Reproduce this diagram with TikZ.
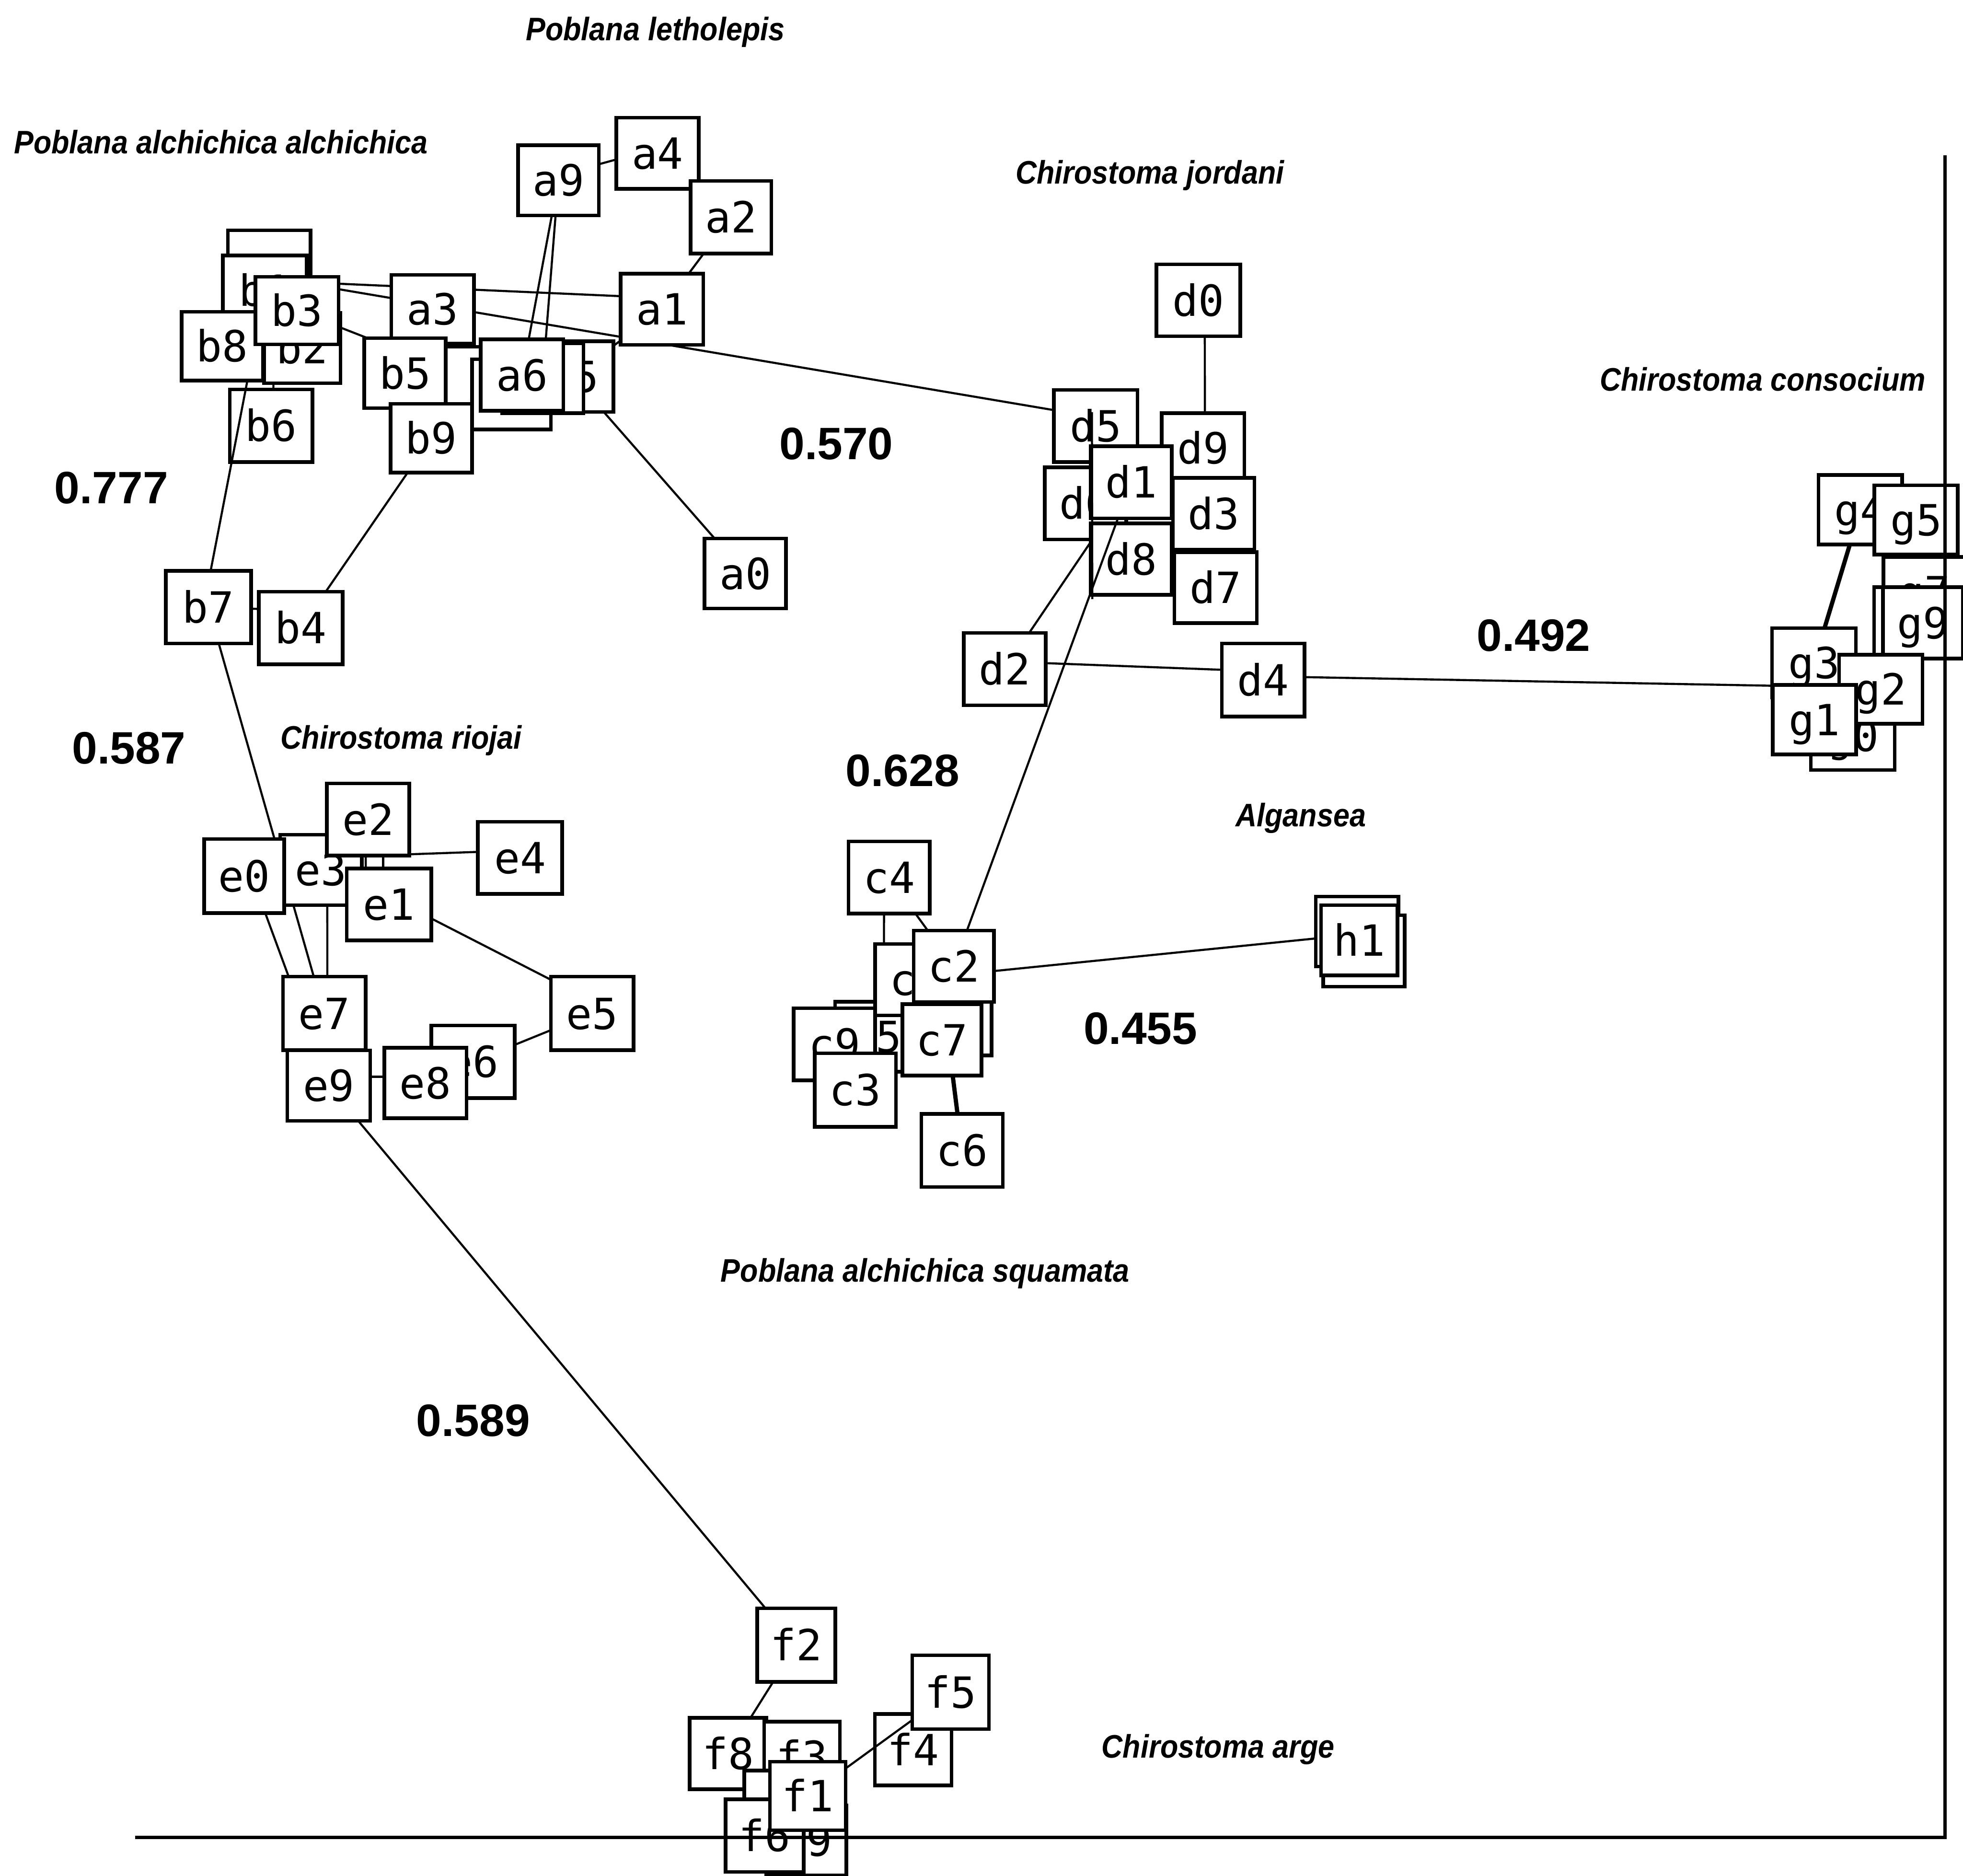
\documentclass[tikz,border=0pt]{standalone}
\usepackage{fontspec}
\usetikzlibrary{calc}
\newfontfamily\boxfont{DejaVu Sans Mono}
\newfontfamily\spfont[FakeStretch=0.9]{Liberation Sans}
\newfontfamily\numfont{Liberation Sans}
\tikzset{
  bx/.style={draw, line width=0.72mm, fill=white, minimum width=16.25mm, minimum height=14mm,
    inner sep=0pt, text height=6.25mm, text depth=0pt, font=\boxfont\fontsize{24.4pt}{25pt}\selectfont},
  sz/.style 2 args={minimum width=#1*0.25mm, minimum height=#2*0.25mm},
  conn/.style={line width=0.42mm},
  thickconn/.style={line width=0.85mm},
  sp/.style={anchor=base, inner sep=0pt, font=\spfont\bfseries\itshape\fontsize{18.5pt}{20pt}\selectfont},
  num/.style={anchor=base, inner sep=0pt, font=\numfont\bfseries\fontsize{25.8pt}{28pt}\selectfont},
  axisline/.style={line width=0.62mm}
}
\pgfdeclarelayer{lines}
\pgfsetlayers{lines,main}
\begin{document}
\begin{tikzpicture}[x=0.25mm, y=-0.25mm]
\useasboundingbox (0,0) rectangle (1568,1498);
\clip (0,0) rectangle (1568,1498);

% ---------- coordinates of box centres ----------
\path
 (446,144) coordinate (pa9) (525.2,122.4) coordinate (pa4) (583.8,173.5) coordinate (pa2)
 (528.8,247) coordinate (pa1) (345.6,247) coordinate (pa3) (215,212) coordinate (pb0)
 (211.5,232) coordinate (pb1) (177.5,276.5) coordinate (pb8) (241.5,278) coordinate (pb2)
 (237.2,248) coordinate (pb3) (216.5,340) coordinate (pb6) (323.5,298) coordinate (pb5)
 (382.5,305) coordinate (pP) (408.5,315) coordinate (pQ) (344.5,350) coordinate (pb9)
 (457.5,300.75) coordinate (pa5) (433.5,302) coordinate (pR) (417,299.5) coordinate (pa6)
 (595.3,458) coordinate (pa0) (166.5,485) coordinate (pb7) (240.3,501.5) coordinate (pb4);

% ===== a / b cluster =====
\node[bx, sz={66}{58}] (b6) at (pb6) {b6};
\draw[conn] (pb1) -- ($(pb7)+(0,-20)$);
\node[bx, sz={66}{56}] (b0) at (pb0) {};
\node[bx, sz={67}{56}] (b1) at (pb1) {b1};
\node[bx, sz={65}{55}] (b8) at (pb8) {b8};
\node[bx, sz={61}{56}] (b2) at (pb2) {b2};
\node[bx, sz={66.5}{54}] (b3) at (pb3) {b3};
\node[bx, sz={66}{55}] (a3) at (pa3) {a3};
\node[bx, sz={65}{56}] (P) at (pP) {};
\node[bx, sz={65}{56}] (b5) at (pb5) {b5};
\node[bx, sz={63}{56}] (Q) at (pQ) {};
\node[bx, sz={65}{55}] (b9) at (pb9) {b9};
\node[bx, sz={65}{56.5}] (a5) at (pa5) {a5};
\node[bx, sz={65}{56}] (R) at (pR) {};
\node[bx, sz={66}{57}] (a6) at (pa6) {a6};
\node[bx, sz={64.5}{56}] (a9) at (pa9) {a9};
\node[bx, sz={66}{57}] (a4) at (pa4) {a4};
\node[bx, sz={64.5}{58}] (a2) at (pa2) {a2};
\node[bx, sz={66}{57}] (a1) at (pa1) {a1};
\node[bx, sz={65}{56}] (a0) at (pa0) {a0};
\node[bx, sz={68}{58}] (b7) at (pb7) {b7};
\node[bx, sz={67}{58}] (b4) at (pb4) {b4};

% ===== d cluster =====
\node[bx, sz={67}{57.5}] (d0) at (957.3,239.8) {d0};
\node[bx, sz={65}{57.7}] (d6) at (867,402) {d6};
\node[bx, sz={66.7}{57.7}] (d5) at (875.2,340.2) {d5};
\node[bx, sz={66}{56}] (d9) at (961,358) {d9};
\node[bx, sz={65}{57.6}] (d1) at (903.5,385.2) {d1};
\node[bx, sz={65}{57.4}] (d3) at (969.5,410.3) {d3};
\node[bx, sz={66}{56.6}] (d7) at (971,469.3) {d7};
\node[bx, sz={65}{57}] (d8) at (903.5,446.5) {d8};
\node[bx, sz={65.4}{57.8}] (d2) at (802.5,534.4) {d2};
\node[bx, sz={66}{58.4}] (d4) at (1009,543.2) {d4};

% ===== g cluster =====
\node[bx, sz={66.7}{55.5}] (g4) at (1486,407.2) {g4};
\node[bx, sz={66.7}{55.4}] (g5) at (1530.5,415.3) {g5};
\node[bx, sz={65}{56}] (g7) at (1537,472.8) {g7};
\node[bx, sz={65}{57}] (g6) at (1529.5,497.5) {};
\node[bx, sz={64}{57}] (g9) at (1536,497.5) {g9};
\node[bx, sz={67}{55}] (g0) at (1480,587.5) {g0};
\node[bx, sz={67}{55.4}] (g3) at (1449,529.3) {g3};
\node[bx, sz={66.5}{55}] (g2) at (1502.3,550.5) {g2};
\node[bx, sz={66.6}{55.6}] (g1) at (1449.3,574.8) {g1};

% ===== e cluster =====
\node[bx, sz={65.3}{56.4}] (e3) at (256.4,694.8) {e3};
\node[bx, sz={64}{59}] (e0) at (195,699.7) {e0};
\node[bx, sz={66}{57.7}] (e2) at (294,654.5) {e2};
\node[bx, sz={67.5}{57.4}] (e1) at (310.8,722.3) {e1};
\node[bx, sz={67.3}{57.6}] (e4) at (415.4,685.2) {e4};
\node[bx, sz={66}{58.7}] (e7) at (259,809.4) {e7};
\node[bx, sz={66.2}{56.3}] (e9) at (262.6,867) {e9};
\node[bx, sz={66.5}{58}] (e6) at (377.8,848) {e6};
\node[bx, sz={65.6}{56.3}] (e8) at (339.8,865) {e8};
\node[bx, sz={66}{58.7}] (e5) at (473,809.4) {e5};

% ===== c / h cluster =====
\node[bx, sz={65}{56}] (c1) at (759.5,815) {};
\node[bx, sz={65}{56}] (c5) at (699.5,828) {c5};
\node[bx, sz={65}{57}] (c0) at (731.5,782.5) {c0};
\node[bx, sz={65}{57.6}] (c9) at (666.5,834) {c9};
\node[bx, sz={65}{58.6}] (c3) at (683.2,870.6) {c3};
\node[bx, sz={65}{57.7}] (c4) at (710.2,700.8) {c4};
\node[bx, sz={64.2}{57}] (c2) at (761.9,771.8) {c2};
\node[bx, sz={63.3}{57}] (c7) at (752.4,830.5) {c7};
\node[bx, sz={65}{58.5}] (c6) at (768.5,918.8) {c6};
\node[bx, sz={66}{56}] (hA) at (1084,744) {};
\node[bx, sz={65}{57}] (hB) at (1089.5,759.5) {};
\node[bx, sz={61}{56}] (h1) at (1085.7,751) {h1};

% ===== f cluster =====
\node[bx, sz={62.3}{58.8}] (f2) at (636,1313.9) {f2};
\node[bx, sz={61.2}{57}] (f4) at (729.4,1397.5) {f4};
\coordinate (f1c) at (645.2,1434.4);
\coordinate (f5c) at (759.3,1351.5);
\draw[conn] (f1c) -- (f5c);
\node[bx, sz={61.4}{59}] (f5) at (f5c) {f5};
\node[bx, sz={61.3}{57}] (f8) at (581.6,1400.5) {f8};
\node[bx, sz={60.5}{56}] (f3) at (640.7,1403) {f3};
\node[bx, sz={64.5}{56}] (f7) at (626.7,1442) {};
\node[bx, sz={64}{56}] (f9) at (644,1470) {f9};
\node[bx, sz={62.3}{58}] (f6) at (610.8,1466) {f6};
\node[bx, sz={60.5}{54.8}] (f1) at (f1c) {f1};

% ---------- connectors on the lower layer ----------
\begin{pgfonlayer}{lines}
\fill[white] (0,0) rectangle (1568,1498);
\draw[conn] ($(a9.center)+(0,-4)$) -- ($(a4.center)+(0,-4)$);
\draw[conn] (a2.center) -- (a1.center);
\draw[conn] (a9.center) -- (a6.center);
\draw[conn] (a9.center) -- (R.center);
\draw[conn] ($(b1.center)+(0,-8)$) -- ($(a1.center)+(0,-9)$);
\draw[conn] ($(b1.center)+(0,-11)$) -- ($(d5.center)+(0,-7)$);
\draw[conn] (b3.center) -- (Q.center);
\draw[conn] ($(b0.center)+(3,0)$) -- ($(b6.center)+(2,0)$);
\draw[conn] (a5.center) -- (a0.center);
\draw[conn] (a5.center) -- (a1.center);
\draw[conn] (b9.center) -- (b4.center);
\draw[conn] (b7.center) -- ($(b4.center)+(0,-14)$);
\draw[conn] (b7.center) -- (e7.center);
\draw[conn] ($(e0.center)+(6,0)$) -- (e9.center);
\draw[conn] ($(e3.center)+(5,0)$) -- ($(e7.center)+(2.5,0)$);
\draw[conn] ($(e3.center)+(0,-10)$) -- ($(e4.center)+(0,-6)$);
\draw[conn] ($(e2.center)+(-2,0)$) -- ($(e1.center)+(-18.5,0)$);
\draw[conn] ($(e2.center)+(12,0)$) -- ($(e1.center)+(-4.8,0)$);
\draw[conn] ($(e1.center)+(0,-6)$) -- ($(e5.center)+(0,-10)$);
\draw[conn] (e5.center) -- (e6.center);
\draw[conn] ($(e9.center)+(0,-7)$) -- ($(e8.center)+(0,-5)$);
\draw[conn] (e9.center) -- (f2.center);
\draw[conn] (f2.center) -- (f8.center);
\draw[conn] ($(d0.center)+(5,0)$) -- ($(d9.center)+(1.5,0)$);
\draw[conn] (d1.center) -- (d2.center);
\draw[conn] ($(d2.center)+(0,-6)$) -- ($(d4.center)+(0,-7)$);
\draw[conn] ($(d4.center)+(0,-3)$) -- ($(g3.center)+(0,19)$);
\draw[thickconn] (g4.center) -- (g3.center);
\draw[conn] ($(c4.center)+(-4,0)$) -- ($(c0.center)+(-25.5,0)$);
\draw[conn] (c4.center) -- (c2.center);
\draw[conn] ($(c2.center)+(0,7)$) -- ($(h1.center)+(0,-5)$);
\draw[thickconn] ($(c7.center)+(5,0)$) -- (c6.center);
\end{pgfonlayer}

% ---------- connectors drawn over some boxes ----------
\draw[conn] ($(d1.center)!0.075!(c2.center)$) -- ($(d1.center)!0.926!(c2.center)$);
\draw[conn] ($(d5.center)+(-3,-11)$) -- ($(d8.center)+(-31,32)$);

% ---------- species names ----------
\node[sp] (t1) at (523.5,32.2) {Poblana letholepis};
\node[sp] (t2) at (176.5,122.7) {Poblana alchichica alchichica};
\node[sp] (t3) at (918.5,147) {Chirostoma jordani};
\node[sp] (t4) at (1408,312) {Chirostoma consocium};
\node[sp] (t5) at (320.5,598) {Chirostoma riojai};
\node[sp] (t6) at (1039,660) {Algansea};
\node[sp] (t7) at (739,1024) {Poblana alchichica squamata};
\node[sp] (t8) at (973,1404) {Chirostoma arge};

% ---------- distances ----------
\node[num] (n1) at (89,402) {0.777};
\node[num] (n2) at (668,367) {0.570};
\node[num] (n3) at (103,610) {0.587};
\node[num] (n4) at (721,628) {0.628};
\node[num] (n5) at (1225,520) {0.492};
\node[num] (n6) at (911,834) {0.455};
\node[num] (n7) at (378,1147) {0.589};

% ---------- axes ----------
\coordinate (axL) at (108,1467.5);
\coordinate (axC) at (1553.7,1467.5);
\coordinate (axT) at (1553.7,124);
\draw[axisline] (axL) -- (axC) -- (axT);
\end{tikzpicture}
\end{document}
